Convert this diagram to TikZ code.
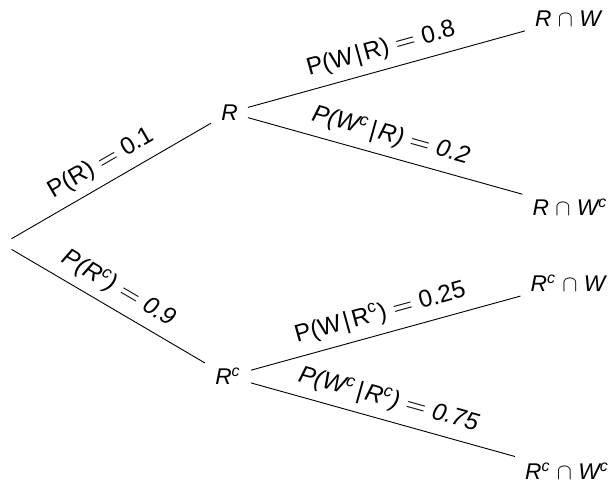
\documentclass[tikz,border=0pt]{standalone}
\usepackage{fontspec}
\setmainfont{Liberation Sans}
\newcommand{\cmp}{\textsuperscript{c}}
\newcommand{\eqs}{ {\fontsize{12.3}{13}\selectfont$=$} }
\newcommand{\giv}{\kern1.2pt|\kern1.2pt}
\begin{document}
\begin{tikzpicture}[x=0.44pt,y=-0.44pt,
  every node/.style={font=\fontsize{10}{12}\selectfont},
  event/.style={inner sep=4.3pt, font=\fontsize{10}{12}\selectfont\itshape},
  prob/.style={sloped, above, inner sep=3.7pt, pos=0.5, font=\fontsize{10.7}{13}\selectfont},
  probit/.style={prob, font=\fontsize{10.7}{13}\selectfont\itshape}]
\useasboundingbox (0,0) rectangle (615,482);

% tree nodes
\node[inner sep=0pt, minimum size=7.6pt] (root) at (2.4,244) {};
\node[event] (R)    at (229.5,112.5) {R};
\node[event] (Rc)   at (228,376.5)   {R\cmp};
\node[event] (RW)   at (568,19)      {R $\cap$ W};
\node[event] (RWc)  at (570,207.5)   {R $\cap$ W\cmp};
\node[event] (RcW)  at (568,283)     {R\cmp{} $\cap$ W};
\node[event] (RcWc) at (567,471)     {R\cmp{} $\cap$ W\cmp};

% branches with their probabilities
\draw (root) -- node[prob]   {P(R)\eqs0.1} (R);
\draw (root) -- node[probit] {P(R\cmp)\eqs0.9} (Rc);
\draw (R)    -- node[prob]   {P(W\giv R)\eqs0.8} (RW);
\draw (R)    -- node[probit] {P(W\cmp\giv R)\eqs0.2} (RWc);
\draw (Rc)   -- node[prob]   {P(W\giv R\cmp)\eqs0.25} (RcW);
\draw (Rc)   -- node[probit] {P(W\cmp\giv R\cmp)\eqs0.75} (RcWc);
\end{tikzpicture}
\end{document}
